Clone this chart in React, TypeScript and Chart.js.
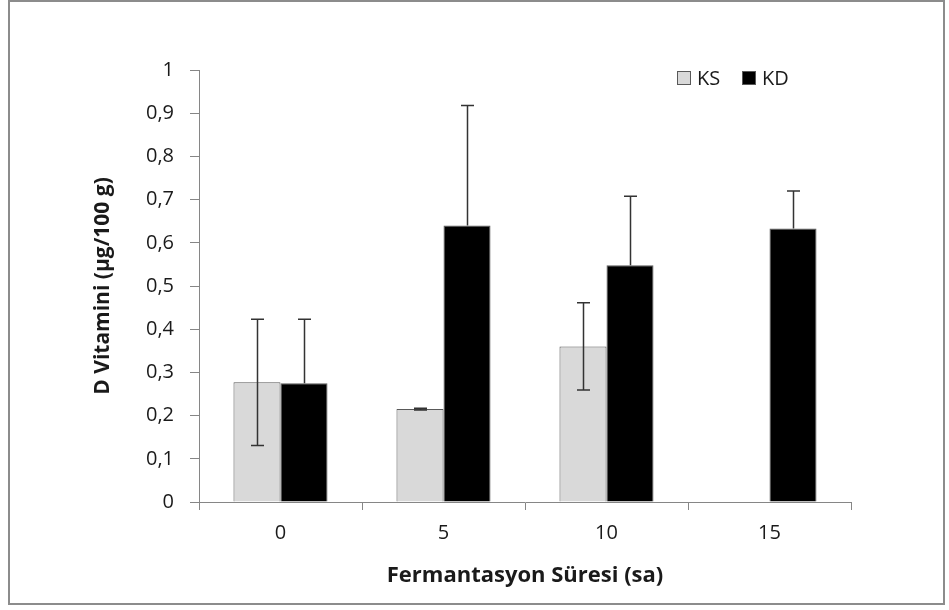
import React, { useEffect, useRef } from "react";
import { Chart, registerables } from "chart.js";

Chart.register(...registerables);

// Fermentation time (hours) and vitamin D content per series
const categories = ["0", "5", "10", "15"];
const seriesNames = ["KS", "KD"];
const ksValues: (number | null)[] = [0.277, 0.215, 0.36, null];
const kdValues: (number | null)[] = [0.275, 0.64, 0.548, 0.633];
// Standard deviations drawn as error bars
const ksErrors = [0.146, 0.002, 0.101, 0];
const kdErrors = [0.148, 0.278, 0.16, 0.087];
const yTickLabels = ["0", "0,1", "0,2", "0,3", "0,4", "0,5", "0,6", "0,7", "0,8", "0,9", "1"];

const FONT = "'Open Sans', 'Noto Sans', sans-serif";
const TEXT = "#1a1a1a";
const AXIS = "#868686";

const errorBarPlugin = {
  id: "errorBars",
  afterDatasetsDraw(chart: any) {
    const { ctx } = chart;
    const yScale = chart.scales.y;
    const errs = [ksErrors, kdErrors];
    ctx.save();
    ctx.strokeStyle = "#333333";
    ctx.lineWidth = 1.5;
    chart.data.datasets.forEach((ds: any, di: number) => {
      const meta = chart.getDatasetMeta(di);
      // the lower whisker disappears inside a black bar
      const showLower = ds.backgroundColor !== "#000000";
      meta.data.forEach((el: any, i: number) => {
        const v = ds.data[i];
        if (v === null || v === undefined) return;
        const e = errs[di][i];
        const x = Math.round(el.x) + 0.5;
        const yTop = yScale.getPixelForValue(v + e);
        const yMid = yScale.getPixelForValue(v);
        const yBot = yScale.getPixelForValue(v - e);
        const cap = 6.5;
        ctx.beginPath();
        ctx.moveTo(x, yTop);
        ctx.lineTo(x, showLower ? yBot : yMid);
        ctx.moveTo(x - cap, yTop);
        ctx.lineTo(x + cap, yTop);
        if (showLower) {
          ctx.moveTo(x - cap, yBot);
          ctx.lineTo(x + cap, yBot);
        }
        ctx.stroke();
      });
    });
    ctx.restore();
  },
};

const legendPlugin = {
  id: "insideLegend",
  afterDraw(chart: any) {
    const { ctx, chartArea } = chart;
    const items = chart.data.datasets.map((d: any) => ({
      label: d.label,
      fill: d.backgroundColor,
    }));
    ctx.save();
    ctx.font = `20px ${FONT}`;
    ctx.textBaseline = "middle";
    let x = chartArea.left + 478;
    const y = chartArea.top + 8;
    items.forEach((it: any) => {
      ctx.fillStyle = it.fill;
      ctx.fillRect(x, y - 7, 14, 14);
      ctx.strokeStyle = "#595959";
      ctx.lineWidth = 1;
      ctx.strokeRect(x + 0.5, y - 6.5, 13, 13);
      ctx.fillStyle = TEXT;
      ctx.fillText(it.label, x + 20, y + 1);
      x += 65;
    });
    ctx.restore();
  },
};

export default function App() {
  const canvasRef = useRef<HTMLCanvasElement | null>(null);

  useEffect(() => {
    if (!canvasRef.current) return;
    const chart = new Chart(canvasRef.current, {
      type: "bar",
      data: {
        labels: categories,
        datasets: [
          {
            label: seriesNames[0],
            data: ksValues,
            backgroundColor: "#d9d9d9",
            borderColor: "#595959",
            borderWidth: 1,
            categoryPercentage: 0.577,
            barPercentage: 1,
          },
          {
            label: seriesNames[1],
            data: kdValues,
            backgroundColor: "#000000",
            borderColor: "#595959",
            borderWidth: 1,
            categoryPercentage: 0.577,
            barPercentage: 1,
          },
        ],
      },
      options: {
        responsive: false,
        animation: false,
        layout: { padding: { left: 0, top: 68, right: 92, bottom: 0 } },
        plugins: {
          legend: { display: false },
          tooltip: { enabled: false },
        },
        scales: {
          x: {
            grid: {
              drawOnChartArea: false,
              drawTicks: true,
              tickLength: 8,
              color: AXIS,
            },
            border: { display: true, color: AXIS, width: 1 },
            ticks: {
              color: TEXT,
              font: { family: FONT, size: 20 },
              padding: 11,
              maxRotation: 0,
            },
            title: {
              display: true,
              text: "Fermantasyon Süresi (sa)",
              color: TEXT,
              font: { family: FONT, size: 22, weight: "bold" },
              padding: { top: 0, bottom: 14 },
            },
            afterFit(scale: any) {
              scale.height = 101;
            },
          },
          y: {
            min: 0,
            max: 1,
            ticks: {
              stepSize: 0.1,
              color: TEXT,
              font: { family: FONT, size: 20 },
              padding: 16,
              callback: (_v: any, i: number) => yTickLabels[i],
            },
            grid: {
              drawOnChartArea: false,
              drawTicks: true,
              tickLength: 9,
              color: AXIS,
            },
            border: { display: true, color: AXIS, width: 1 },
            title: {
              display: true,
              text: "D Vitamini (µg/100 g)",
              color: TEXT,
              font: { family: FONT, size: 21, weight: "bold" },
              padding: { top: 80, bottom: 0 },
            },
            afterFit(scale: any) {
              scale.width = 189;
            },
          },
        },
      },
      plugins: [errorBarPlugin, legendPlugin],
    } as any);
    return () => chart.destroy();
  }, []);

  return (
    <div
      style={{
        position: "absolute",
        left: 8,
        top: 0,
        width: 937,
        height: 605,
        border: "2px solid #8c8c8c",
        boxSizing: "border-box",
        background: "#fff",
      }}
    >
      <canvas ref={canvasRef} width={933} height={601} style={{ display: "block" }} />
    </div>
  );
}
